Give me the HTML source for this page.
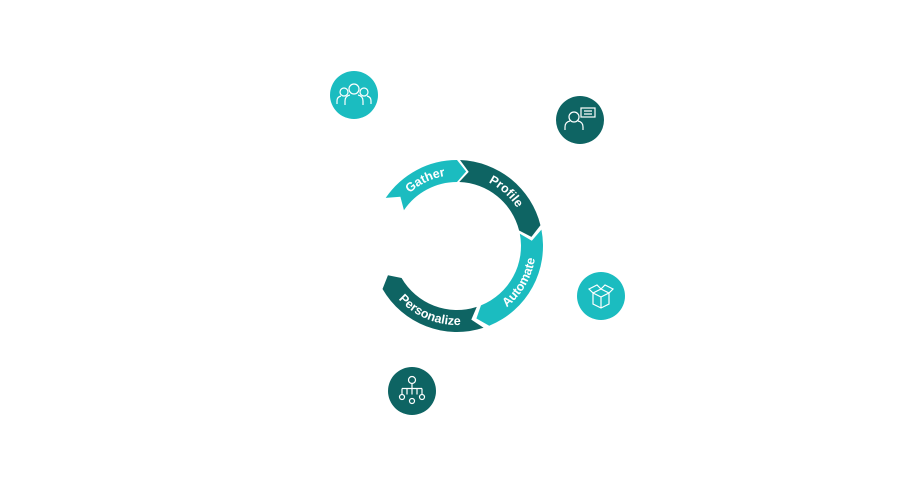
<!DOCTYPE html>
<html><head><meta charset="utf-8"><style>
html,body{margin:0;padding:0;background:#fff;width:900px;height:478px;overflow:hidden}
svg{display:block}
</style></head><body>
<svg id="s" width="900" height="478" viewBox="0 0 900 478" xmlns="http://www.w3.org/2000/svg">
<defs></defs>
<g id="ring"></g>
<circle cx="354" cy="95" r="24" fill="#1bbcc0"/>
<g fill="none" stroke="#fff" stroke-width="1.2">
<circle cx="354" cy="89" r="5"/><path d="M345 105 v-4 q0-5 5-6 M363 105 v-4 q0-5-5-6"/>
<circle cx="344" cy="92" r="4"/><path d="M337 104 v-3 q0-4 4-5"/>
<circle cx="364" cy="92" r="4"/><path d="M371 104 v-3 q0-4-4-5"/>
</g>
<circle cx="580" cy="120" r="24" fill="#0e6463"/>
<g fill="none" stroke="#fff" stroke-width="1.2">
<circle cx="574" cy="117" r="5"/><path d="M565 130 v-3 q0-5 5-6 M583 130 v-3 q0-5-5-6"/>
<rect x="581" y="108" width="14" height="9"/><path d="M584 111h8 M584 114h8"/>
</g>
<circle cx="601" cy="296" r="24" fill="#1bbcc0"/>
<g fill="none" stroke="#fff" stroke-width="1.2">
<path d="M593 293 l8 4 l8-4 v11 l-8 4 l-8-4z M601 297 v11 M593 293 l8-4 l8 4 M593 293 l-4 -4 l8-4 l4 4 M609 293 l4-4 l-8-4 l-4 4"/>
</g>
<circle cx="412" cy="391" r="24" fill="#0e6463"/>
<g fill="none" stroke="#fff" stroke-width="1.2">
<circle cx="412" cy="380" r="3.5"/><path d="M412 383.5 v5 M402 388.5 h20 M402 388.5v6 M412 388.5v6 M422 388.5v6 M407 388.5 v6 M417 388.5v6"/>
<circle cx="402" cy="397" r="2.5"/><circle cx="412" cy="401" r="2.5"/><circle cx="422" cy="397" r="2.5"/>
</g>
</svg>
<script>
var cx=457,cy=246,R=86,r=64,m=75;
function P(rad,a){a=a*Math.PI/180;return (cx+rad*Math.cos(a)).toFixed(2)+' '+(cy+rad*Math.sin(a)).toFixed(2);}
var segs=[[214,270,'#1bbcc0','Gather',0],[272,346,'#0e6463','Profile',0],[349,68,'#1bbcc0','Automate',1],[72,150,'#0e6463','Personalize',1]];
var g=document.getElementById('ring'),defs=document.querySelector('defs'),html='',dh='';
segs.forEach(function(s,i){
 var a0=s[0],a1=s[1];if(a1<a0)a1+=360;
 var d='M'+P(R,a0)+' A'+R+' '+R+' 0 0 1 '+P(R,a1)+' L'+P(m,a1+7)+' L'+P(r,a1)+' A'+r+' '+r+' 0 0 0 '+P(r,a0)+' L'+P(m,a0+7)+' Z';
 html+='<path d="'+d+'" fill="'+s[2]+'"/>';
 var tr;
 if(!s[4]){tr=71;
 dh+='<path id="t'+i+'" d="M'+P(tr,a0)+' A'+tr+' '+tr+' 0 0 1 '+P(tr,a1)+'"/>';}
 else{tr=79;
 dh+='<path id="t'+i+'" d="M'+P(tr,a1)+' A'+tr+' '+tr+' 0 0 0 '+P(tr,a0)+'"/>';}
 html+='<text font-family="Liberation Sans Narrow, Liberation Sans, sans-serif" font-weight="bold" font-size="12.5" fill="#fff" text-anchor="middle"><textPath href="#t'+i+'" startOffset="'+(s[4]?'48%':'54%')+'">'+s[3]+'</textPath></text>';
});
defs.innerHTML=dh;g.innerHTML=html;
</script>
</body></html>
